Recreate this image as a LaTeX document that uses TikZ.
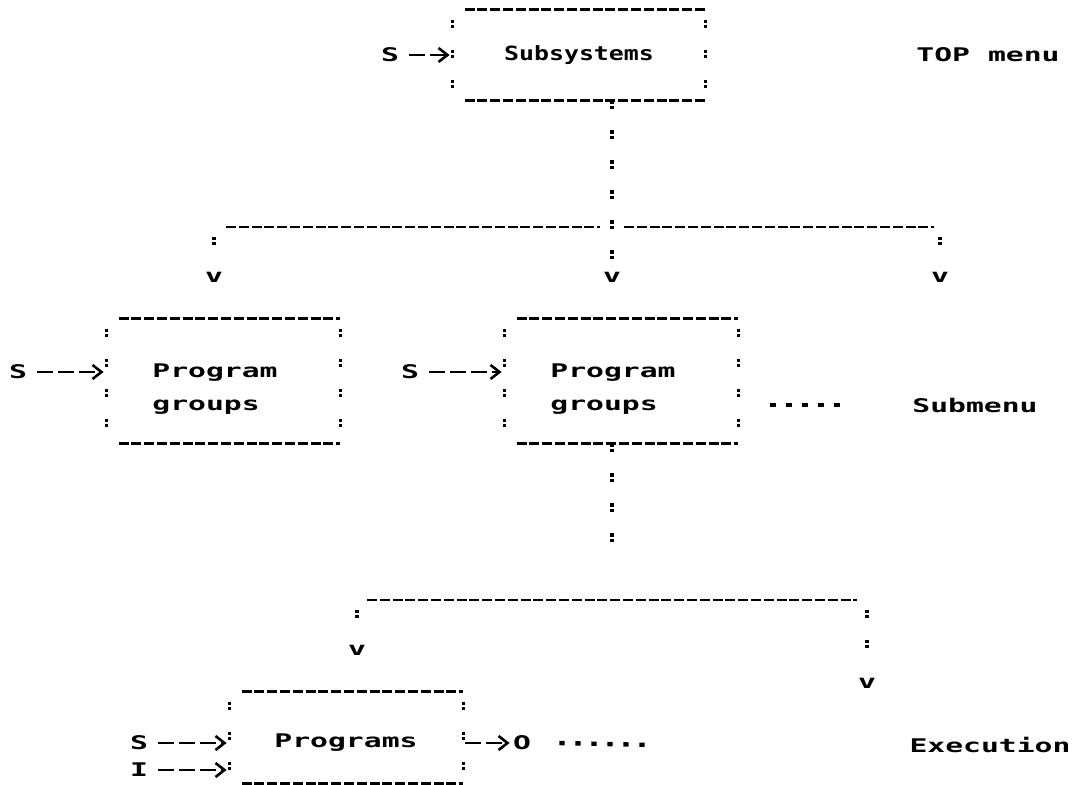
\documentclass[tikz,border=0pt]{standalone}
\usepackage{fontspec}
\usetikzlibrary{arrows.meta, positioning}
\newfontfamily\dotfont[FakeStretch=1.58]{DejaVu Sans Mono}
\newfontfamily\narrowdotfont[FakeStretch=1.27]{DejaVu Sans Mono}

% frame of one menu box: underscores on top and bottom, bars on the sides
\newcommand{\asciiframe}[1]{%
  \draw[underscore] ([xshift=6pt]#1.north west) -- (#1.north east);
  \draw[underscore] ([xshift=6pt]#1.south west) -- (#1.south east);
  \draw[bars] ([yshift=-5pt]#1.north west) -- (#1.south west);
  \draw[bars] ([yshift=-5pt]#1.north east) -- (#1.south east);
}

\begin{document}
\begin{tikzpicture}[
  x=0.5pt, y=-0.5pt,
  every node/.style={
    inner sep=0pt,
    font=\dotfont\bfseries\fontsize{9.4}{16.5}\selectfont
  },
  topbox/.style={
    rectangle, minimum width=126pt, minimum height=45pt, align=center,
    font=\narrowdotfont\bfseries\fontsize{9.8}{16.5}\selectfont
  },
  groupbox/.style={rectangle, minimum width=116.5pt, minimum height=62pt},
  progbox/.style={rectangle, minimum width=116.5pt, minimum height=45.5pt},
  boxtext/.style={align=left},
  underscore/.style={line width=1.3pt, dash pattern=on 5pt off 1.4pt},
  bars/.style={line width=1.8pt, dash pattern=on 1.6pt off 1pt on 1.6pt off 10.8pt},
  leader/.style={line width=2.2pt, dash pattern=on 2.6pt off 5.4pt},
  sarrow/.style={
    line width=1.3pt, dash pattern=on 8pt off 2.5pt,
    -{Straight Barb[length=4.5pt, width=7pt]}, shorten <=5pt, shorten >=1.5pt
  }
]
  \useasboundingbox (0,0) rectangle (1080,785);

  % TOP menu
  \node[topbox] (subsys) at (579,55) {Subsystems};
  \asciiframe{subsys}
  \node (s1) at (390,55) {S};
  \draw[sarrow] (s1.east) -- (subsys.west |- s1);
  \node (topmenu) at (988,55) {TOP menu};

  % fork to the submenus
  \coordinate (fork1) at (612,227);
  \node (v1) at (214,277) {v};
  \node (v2) at (612,277) {v};
  \node (v3) at (940,277) {v};
  \draw[bars] (subsys.south -| fork1) -- (fork1) -- ([yshift=4pt]v2.north);
  \draw[underscore, shorten <=6pt, shorten >=6pt] (v1 |- fork1) -- (fork1);
  \draw[underscore, shorten <=6pt, shorten >=3pt] (fork1) -- (v3 |- fork1);
  \draw[bars, shorten <=5pt] (v1 |- fork1) -- ([yshift=4pt]v1.north);
  \draw[bars, shorten <=5pt] (v3 |- fork1) -- ([yshift=4pt]v3.north);

  % Submenus
  \node[groupbox] (groupsl) at (223.5,381) {};
  \asciiframe{groupsl}
  \node[boxtext, anchor=west] (grpltext) at (152,389) {Program\\groups};
  \node (s2) at (18,372) {S};
  \draw[sarrow] (s2.east) -- (groupsl.west |- s2);

  \node[groupbox] (groupsr) at (621.5,381) {};
  \asciiframe{groupsr}
  \node[boxtext, anchor=west] (grprtext) at (550,389) {Program\\groups};
  \node (s3) at (410,372) {S};
  \draw[sarrow] (s3.east) -- (groupsr.west |- s3);

  \node (submenu) at (975,405) {Submenu};
  \draw[leader] ([xshift=16pt]groupsr.east |- submenu) -- ([xshift=-34pt]submenu.west);

  % fork to the programs
  \coordinate (fork2) at (612,600);
  \node (v4) at (357,650) {v};
  \node (v5) at (867,683) {v};
  \draw[bars, shorten >=22pt] (groupsr.south -| fork2) -- (fork2);
  \draw[underscore, shorten <=5pt, shorten >=5pt] (v4 |- fork2) -- (v5 |- fork2);
  \draw[bars, shorten <=5pt] (v4 |- fork2) -- ([yshift=4pt]v4.north);
  \draw[bars, shorten <=5pt] (v5 |- fork2) -- ([yshift=4pt]v5.north);

  % Execution
  \node[progbox] (progs) at (346.5,737.5) {};
  \asciiframe{progs}
  \node[boxtext] (progtext) at (346,743) {Programs};
  \node (s4) at (139,743) {S};
  \node (i4) at (139,770) {I};
  \draw[sarrow] (s4.east) -- (progs.west |- s4);
  \draw[sarrow] (i4.east) -- (progs.west |- i4);
  \node (out) at (522,743) {O};
  \draw[sarrow, shorten <=1pt] (progs.east |- out) -- (out.west);
  \node (exec) at (990,745) {Execution};
  \draw[leader] ([xshift=14pt]out.east) -- ([xshift=-128pt]exec.west);
\end{tikzpicture}
\end{document}
